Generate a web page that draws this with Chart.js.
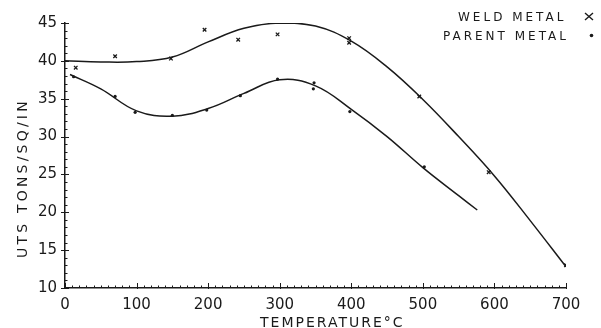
<!DOCTYPE html>
<html>
<head>
<meta charset="utf-8">
<script src="https://cdn.jsdelivr.net/npm/chart.js"></script>
<style>
  html, body { margin: 0; padding: 0; background: #fff; }
  #wrap { width: 601px; height: 328px; position: relative; }
</style>
</head>
<body>
<div id="wrap"><canvas id="grafico"></canvas></div>
<script>
// curves as drawn on the sheet (temperature °C, UTS tons/sq in)
var curvaSoldT = [0, 50, 100, 150, 200, 250, 300, 350, 400, 450, 500, 550, 600, 650, 700];
var curvaSoldV = [40.0, 39.85, 39.9, 40.5, 42.5, 44.3, 45.0, 44.6, 42.6, 39.2, 34.9, 30.0, 24.8, 18.9, 12.8];

var curvaBaseT = [7, 50, 100, 150, 200, 250, 300, 350, 400, 450, 500, 550, 576];
var curvaBaseV = [38.2, 36.3, 33.4, 32.7, 33.7, 35.7, 37.5, 36.7, 33.6, 30.0, 25.9, 22.2, 20.3];

// measured points
var puntosSoldT = [15, 70, 148, 195, 242, 297, 397, 397, 495, 592, 700];
var puntosSoldV = [39.1, 40.6, 40.3, 44.1, 42.8, 43.5, 43.0, 42.4, 35.3, 25.3, 13.0];

var puntosBaseT = [12, 70, 98, 150, 198, 245, 297, 348, 347, 398, 502];
var puntosBaseV = [37.9, 35.3, 33.2, 32.8, 33.5, 35.4, 37.6, 37.1, 36.3, 33.3, 26.0];

var ticksX = [0, 100, 200, 300, 400, 500, 600, 700];
var ticksY = [10, 15, 20, 25, 30, 35, 40, 45];

function pares(xs, ys) {
    return xs.map(function (x, i) { return { x: x, y: ys[i] }; });
}

var tinta = '#1a1a1a';
var fuente = '"DejaVu Sans", sans-serif';

// small ticks on the axes, axis titles and the key
var extras = {
    id: 'extras',
    afterDraw: function (chart) {
        var ctx = chart.ctx;
        var sx = chart.scales.x, sy = chart.scales.y;
        var x0 = sx.getPixelForValue(0), y0 = sy.getPixelForValue(10);
        ctx.save();
        ctx.strokeStyle = tinta;
        ctx.lineWidth = 1;
        ctx.beginPath();
        for (var v = 10; v <= 45; v++) {
            var py = Math.round(sy.getPixelForValue(v)) + 0.5;
            if (v % 5 === 0) { ctx.moveTo(x0 - 4, py); ctx.lineTo(x0 + 4, py); }
            else { ctx.moveTo(x0, py); ctx.lineTo(x0 + 2.5, py); }
        }
        for (var t = 0; t <= 700; t += 10) {
            var px = Math.round(sx.getPixelForValue(t)) + 0.5;
            if (t % 100 === 0) { ctx.moveTo(px, y0 + 1); ctx.lineTo(px, y0 - 5); }
            else { ctx.moveTo(px, y0); ctx.lineTo(px, y0 - 2.5); }
        }
        ctx.stroke();

        ctx.fillStyle = tinta;
        ctx.textBaseline = 'alphabetic';
        ctx.textAlign = 'left';

        // x title
        ctx.font = '14px ' + fuente;
        ctx.letterSpacing = '2px';
        ctx.fillText('TEMPERATURE°C', 260, 327);

        // y title
        ctx.save();
        ctx.translate(27, 258);
        ctx.rotate(-Math.PI / 2);
        ctx.font = '14px ' + fuente;
        ctx.letterSpacing = '3.2px';
        ctx.fillText('UTS TONS/SQ/IN', 0, 0);
        ctx.restore();

        // key
        ctx.font = '12px ' + fuente;
        ctx.letterSpacing = '3px';
        ctx.fillText('WELD METAL', 458, 21);
        ctx.fillText('PARENT METAL', 443, 40);
        ctx.letterSpacing = '0px';
        ctx.lineWidth = 1.4;
        ctx.beginPath();
        ctx.moveTo(585, 13); ctx.lineTo(593, 20);
        ctx.moveTo(593, 13); ctx.lineTo(585, 20);
        ctx.stroke();
        ctx.beginPath();
        ctx.arc(591.5, 35.5, 1.8, 0, Math.PI * 2);
        ctx.fill();
        ctx.restore();
    }
};

var ctx = document.getElementById('grafico').getContext('2d');
new Chart(ctx, {
    type: 'scatter',
    data: {
        datasets: [{
            label: 'WELD METAL',
            data: pares(curvaSoldT, curvaSoldV),
            showLine: true,
            tension: 0.4,
            borderColor: tinta,
            borderWidth: 1.5,
            pointRadius: 0
        }, {
            label: 'PARENT METAL',
            data: pares(curvaBaseT, curvaBaseV),
            showLine: true,
            tension: 0.4,
            borderColor: tinta,
            borderWidth: 1.5,
            pointRadius: 0
        }, {
            label: 'WELD METAL ×',
            data: pares(puntosSoldT, puntosSoldV),
            pointStyle: 'crossRot',
            pointRadius: 2.5,
            borderColor: tinta,
            borderWidth: 1.3
        }, {
            label: 'PARENT METAL •',
            data: pares(puntosBaseT, puntosBaseV),
            pointStyle: 'circle',
            pointRadius: 1.6,
            backgroundColor: tinta,
            borderColor: tinta,
            borderWidth: 0
        }]
    },
    options: {
        animation: false,
        responsive: true,
        maintainAspectRatio: false,
        layout: { padding: { left: 0, top: 23, right: 35, bottom: 0 } },
        plugins: {
            legend: { display: false },
            title: { display: false },
            tooltip: { enabled: false }
        },
        scales: {
            x: {
                type: 'linear',
                min: 0,
                max: 700,
                afterFit: function (s) { s.height = 40; },
                afterBuildTicks: function (s) { s.ticks = ticksX.map(function (v) { return { value: v }; }); },
                grid: { display: false, drawTicks: false },
                border: { display: true, color: tinta, width: 1.5 },
                ticks: { color: tinta, font: { family: fuente, size: 15 }, padding: 8, maxRotation: 0, autoSkip: false }
            },
            y: {
                min: 10,
                max: 45,
                afterFit: function (s) { s.width = 65; },
                afterBuildTicks: function (s) { s.ticks = ticksY.map(function (v) { return { value: v }; }); },
                grid: { display: false, drawTicks: false },
                border: { display: true, color: tinta, width: 1.5 },
                ticks: { color: tinta, font: { family: fuente, size: 15 }, padding: 8 }
            }
        }
    },
    plugins: [extras]
});
</script>
</body>
</html>
